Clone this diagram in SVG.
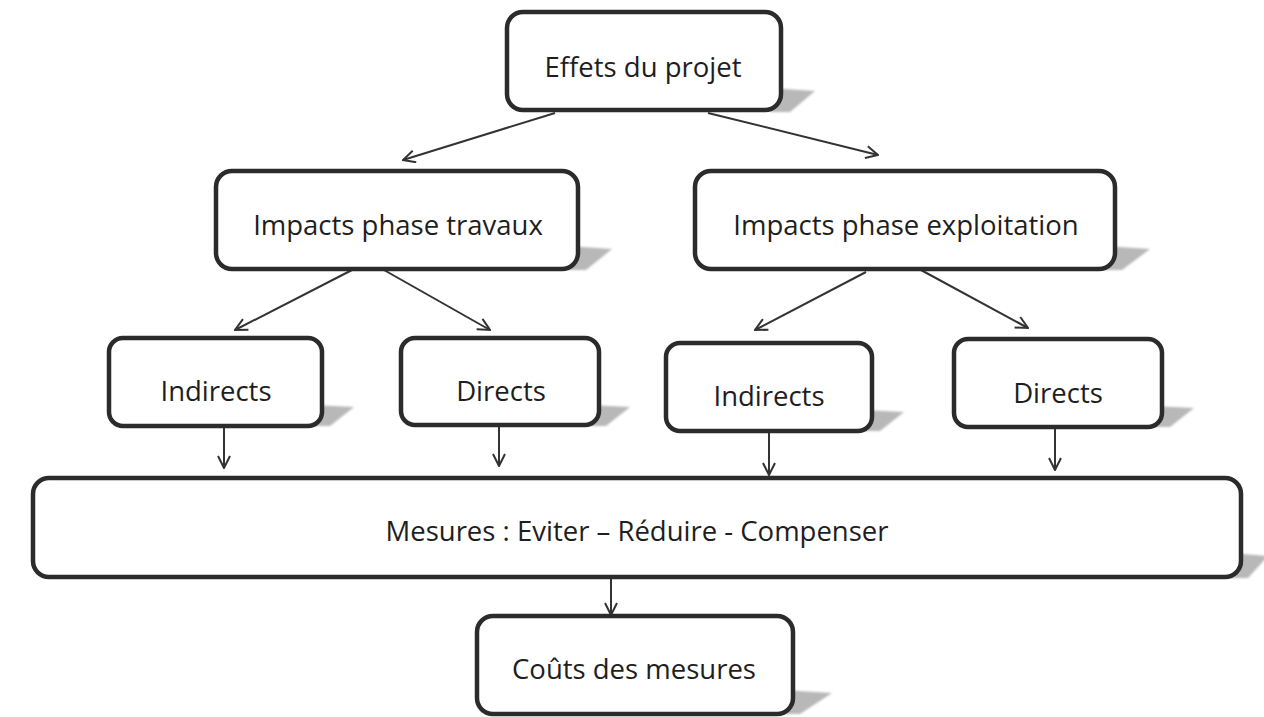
<svg xmlns="http://www.w3.org/2000/svg" width="1264" height="717" viewBox="0 0 1264 717">
<style>
.box{fill:#fff;stroke:#2b2b2b;stroke-width:4.5}
.lbl{font-family:"Open Sans","Noto Sans",sans-serif;font-size:27.5px;fill:#1e1e1e;text-anchor:middle;dominant-baseline:middle}
.sh{fill:#b8b8b8;filter:url(#blur)}
.con{stroke:#333;stroke-width:2;fill:none;marker-end:url(#ah)}
</style>
<defs>
<filter id="blur" x="-20%" y="-20%" width="140%" height="140%"><feGaussianBlur stdDeviation="1.2"/></filter>
<marker id="ah" viewBox="0 0 14 14" refX="13" refY="7" markerWidth="14" markerHeight="14" markerUnits="userSpaceOnUse" orient="auto">
<path d="M1,1 L13,7 L1,13" fill="none" stroke="#333" stroke-width="2"/>
</marker>
</defs>
<rect width="1264" height="717" fill="#fff"/>
<g id="connectors">
<line class="con" x1="555" y1="113" x2="403" y2="160"/>
<line class="con" x1="708" y1="113" x2="878" y2="155"/>
<line class="con" x1="352" y1="270" x2="235" y2="330"/>
<line class="con" x1="384" y1="270" x2="490" y2="330"/>
<line class="con" x1="866" y1="272" x2="755" y2="330"/>
<line class="con" x1="921" y1="270" x2="1028" y2="328"/>
<line class="con" x1="224" y1="427" x2="224" y2="468"/>
<line class="con" x1="499" y1="427" x2="499" y2="466"/>
<line class="con" x1="769" y1="432" x2="769" y2="475"/>
<line class="con" x1="1055" y1="428" x2="1055" y2="470"/>
<line class="con" x1="611" y1="578" x2="611" y2="615"/>
</g>
<g id="n-effets">
<polygon class="sh" points="770,88 815,91 790,112 770,112"/>
<rect class="box" x="507" y="12" width="274" height="98" rx="16"/>
<text class="lbl" x="643" y="70">Effets du projet</text>
</g>
<g id="n-travaux">
<polygon class="sh" points="568,246 612,249 586,270 568,270"/>
<rect class="box" x="216" y="171" width="362" height="98" rx="16"/>
<text class="lbl" x="398" y="228">Impacts phase travaux</text>
</g>
<g id="n-exploitation">
<polygon class="sh" points="1104,246 1150,249 1122,270 1104,270"/>
<rect class="box" x="695" y="171" width="420" height="98" rx="16"/>
<text class="lbl" x="906" y="228">Impacts phase exploitation</text>
</g>
<g id="n-indirects1">
<polygon class="sh" points="312,405 354,407 330,426 312,426"/>
<rect class="box" x="109" y="338" width="213" height="88" rx="14"/>
<text class="lbl" x="216" y="394">Indirects</text>
</g>
<g id="n-directs1">
<polygon class="sh" points="588,405 630,407 606,426 588,426"/>
<rect class="box" x="401" y="338" width="198" height="87" rx="14"/>
<text class="lbl" x="501" y="394">Directs</text>
</g>
<g id="n-indirects2">
<polygon class="sh" points="862,410 904,412 880,431 862,431"/>
<rect class="box" x="666" y="343" width="206" height="88" rx="14"/>
<text class="lbl" x="769" y="399">Indirects</text>
</g>
<g id="n-directs2">
<polygon class="sh" points="1152,406 1194,408 1170,427 1152,427"/>
<rect class="box" x="954" y="339" width="208" height="88" rx="14"/>
<text class="lbl" x="1058" y="396">Directs</text>
</g>
<g id="n-mesures">
<polygon class="sh" points="1230,553 1268,556 1248,578 1230,578"/>
<rect class="box" x="33" y="478" width="1208" height="99" rx="16"/>
<text class="lbl" x="637" y="534">Mesures : Eviter – Réduire - Compenser</text>
</g>
<g id="n-couts">
<polygon class="sh" points="782,690 832,693 800,714 782,714"/>
<rect class="box" x="477" y="616" width="316" height="98" rx="16"/>
<text class="lbl" x="634" y="672">Coûts des mesures</text>
</g>
</svg>
